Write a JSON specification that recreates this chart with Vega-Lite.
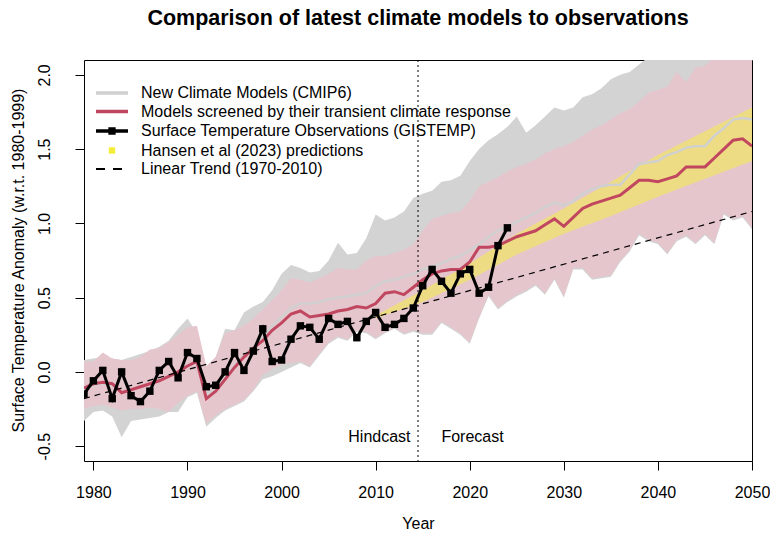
{
  "$schema": "https://vega.github.io/schema/vega-lite/v6.json",
  "width": 668,
  "height": 401,
  "autosize": {"type": "none"},
  "padding": {"left": 84, "top": 60, "right": 18, "bottom": 72},
  "background": "white",
  "title": {"text": "Comparison of latest climate models to observations", "font": "Liberation Sans", "fontSize": 21.5, "fontWeight": "bold", "anchor": "middle", "frame": "group", "baseline": "alphabetic", "offset": 13, "color": "black"},
  "config": {
    "font": "Liberation Sans",
    "view": {"stroke": "black", "strokeWidth": 1, "fill": "white"},
    "axis": {"domain": false, "grid": false, "tickColor": "black", "tickSize": 9, "tickWidth": 1, "labelFont": "Liberation Sans", "labelFontSize": 16, "labelColor": "black", "titleFont": "Liberation Sans", "titleFontSize": 16, "titleFontWeight": "normal", "titleColor": "black"}
  },
  "datasets": {
    "bands": [
      {"year": 1979, "glo": -0.33, "ghi": 0.08, "plo": -0.25, "phi": 0.07},
      {"year": 1980, "glo": -0.27, "ghi": 0.09, "plo": -0.23, "phi": 0.07},
      {"year": 1981, "glo": -0.26, "ghi": 0.10, "plo": -0.22, "phi": 0.13},
      {"year": 1982, "glo": -0.30, "ghi": 0.09, "plo": -0.24, "phi": 0.09},
      {"year": 1983, "glo": -0.44, "ghi": 0.08, "plo": -0.26, "phi": 0.08},
      {"year": 1984, "glo": -0.33, "ghi": 0.10, "plo": -0.25, "phi": 0.08},
      {"year": 1985, "glo": -0.32, "ghi": 0.12, "plo": -0.25, "phi": 0.10},
      {"year": 1986, "glo": -0.31, "ghi": 0.14, "plo": -0.24, "phi": 0.15},
      {"year": 1987, "glo": -0.30, "ghi": 0.17, "plo": -0.25, "phi": 0.16},
      {"year": 1988, "glo": -0.27, "ghi": 0.21, "plo": -0.27, "phi": 0.20},
      {"year": 1989, "glo": -0.27, "ghi": 0.29, "plo": -0.21, "phi": 0.25},
      {"year": 1990, "glo": -0.17, "ghi": 0.36, "plo": -0.16, "phi": 0.30},
      {"year": 1991, "glo": -0.14, "ghi": 0.26, "plo": -0.13, "phi": 0.31},
      {"year": 1992, "glo": -0.37, "ghi": 0.03, "plo": -0.35, "phi": 0.04},
      {"year": 1993, "glo": -0.31, "ghi": 0.10, "plo": -0.29, "phi": 0.10},
      {"year": 1994, "glo": -0.26, "ghi": 0.29, "plo": -0.25, "phi": 0.26},
      {"year": 1995, "glo": -0.23, "ghi": 0.28, "plo": -0.22, "phi": 0.28},
      {"year": 1996, "glo": -0.20, "ghi": 0.40, "plo": -0.19, "phi": 0.31},
      {"year": 1997, "glo": -0.13, "ghi": 0.44, "plo": -0.12, "phi": 0.36},
      {"year": 1998, "glo": -0.05, "ghi": 0.47, "plo": -0.02, "phi": 0.42},
      {"year": 1999, "glo": -0.03, "ghi": 0.55, "plo": 0.02, "phi": 0.48},
      {"year": 2000, "glo": 0.00, "ghi": 0.66, "plo": 0.05, "phi": 0.55},
      {"year": 2001, "glo": 0.03, "ghi": 0.72, "plo": 0.06, "phi": 0.63},
      {"year": 2002, "glo": 0.06, "ghi": 0.70, "plo": 0.07, "phi": 0.62},
      {"year": 2003, "glo": 0.03, "ghi": 0.67, "plo": 0.04, "phi": 0.60},
      {"year": 2004, "glo": 0.11, "ghi": 0.68, "plo": 0.12, "phi": 0.63},
      {"year": 2005, "glo": 0.19, "ghi": 0.75, "plo": 0.20, "phi": 0.66},
      {"year": 2006, "glo": 0.23, "ghi": 0.87, "plo": 0.24, "phi": 0.70},
      {"year": 2007, "glo": 0.21, "ghi": 0.79, "plo": 0.22, "phi": 0.69},
      {"year": 2008, "glo": 0.27, "ghi": 0.80, "plo": 0.28, "phi": 0.69},
      {"year": 2009, "glo": 0.26, "ghi": 0.90, "plo": 0.27, "phi": 0.75},
      {"year": 2010, "glo": 0.22, "ghi": 1.06, "plo": 0.23, "phi": 0.78},
      {"year": 2011, "glo": 0.26, "ghi": 1.02, "plo": 0.27, "phi": 0.78},
      {"year": 2012, "glo": 0.29, "ghi": 1.04, "plo": 0.30, "phi": 0.80},
      {"year": 2013, "glo": 0.25, "ghi": 1.08, "plo": 0.26, "phi": 0.82},
      {"year": 2014, "glo": 0.27, "ghi": 1.17, "plo": 0.28, "phi": 0.86},
      {"year": 2015, "glo": 0.25, "ghi": 1.20, "plo": 0.26, "phi": 0.95},
      {"year": 2016, "glo": 0.25, "ghi": 1.22, "plo": 0.26, "phi": 1.03},
      {"year": 2017, "glo": 0.33, "ghi": 1.28, "plo": 0.34, "phi": 1.05},
      {"year": 2018, "glo": 0.29, "ghi": 1.29, "plo": 0.30, "phi": 1.07},
      {"year": 2019, "glo": 0.25, "ghi": 1.32, "plo": 0.26, "phi": 1.08},
      {"year": 2020, "glo": 0.19, "ghi": 1.42, "plo": 0.20, "phi": 1.15},
      {"year": 2021, "glo": 0.36, "ghi": 1.50, "plo": 0.37, "phi": 1.25},
      {"year": 2022, "glo": 0.51, "ghi": 1.56, "plo": 0.52, "phi": 1.28},
      {"year": 2023, "glo": 0.42, "ghi": 1.60, "plo": 0.43, "phi": 1.31},
      {"year": 2024, "glo": 0.47, "ghi": 1.65, "plo": 0.48, "phi": 1.35},
      {"year": 2025, "glo": 0.51, "ghi": 1.72, "plo": 0.52, "phi": 1.38},
      {"year": 2026, "glo": 0.54, "ghi": 1.61, "plo": 0.55, "phi": 1.40},
      {"year": 2027, "glo": 0.58, "ghi": 1.66, "plo": 0.59, "phi": 1.43},
      {"year": 2028, "glo": 0.52, "ghi": 1.72, "plo": 0.53, "phi": 1.47},
      {"year": 2029, "glo": 0.62, "ghi": 1.78, "plo": 0.63, "phi": 1.50},
      {"year": 2030, "glo": 0.50, "ghi": 1.76, "plo": 0.51, "phi": 1.52},
      {"year": 2031, "glo": 0.69, "ghi": 1.78, "plo": 0.70, "phi": 1.55},
      {"year": 2032, "glo": 0.69, "ghi": 1.85, "plo": 0.70, "phi": 1.59},
      {"year": 2033, "glo": 0.62, "ghi": 1.87, "plo": 0.63, "phi": 1.63},
      {"year": 2034, "glo": 0.63, "ghi": 1.91, "plo": 0.64, "phi": 1.66},
      {"year": 2035, "glo": 0.64, "ghi": 1.97, "plo": 0.65, "phi": 1.70},
      {"year": 2036, "glo": 0.74, "ghi": 2.00, "plo": 0.75, "phi": 1.74},
      {"year": 2037, "glo": 0.81, "ghi": 2.02, "plo": 0.82, "phi": 1.77},
      {"year": 2038, "glo": 0.92, "ghi": 2.07, "plo": 0.93, "phi": 1.82},
      {"year": 2039, "glo": 0.88, "ghi": 2.12, "plo": 0.89, "phi": 1.88},
      {"year": 2040, "glo": 0.86, "ghi": 2.16, "plo": 0.87, "phi": 1.90},
      {"year": 2041, "glo": 0.79, "ghi": 2.20, "plo": 0.80, "phi": 1.92},
      {"year": 2042, "glo": 0.88, "ghi": 2.24, "plo": 0.89, "phi": 2.02},
      {"year": 2043, "glo": 0.91, "ghi": 2.28, "plo": 0.92, "phi": 1.95},
      {"year": 2044, "glo": 0.86, "ghi": 2.32, "plo": 0.87, "phi": 2.05},
      {"year": 2045, "glo": 0.92, "ghi": 2.36, "plo": 0.93, "phi": 2.06},
      {"year": 2046, "glo": 0.86, "ghi": 2.40, "plo": 0.87, "phi": 2.12},
      {"year": 2047, "glo": 1.06, "ghi": 2.44, "plo": 1.07, "phi": 2.16},
      {"year": 2048, "glo": 1.02, "ghi": 2.48, "plo": 1.03, "phi": 2.20},
      {"year": 2049, "glo": 1.04, "ghi": 2.52, "plo": 1.05, "phi": 2.22},
      {"year": 2050, "glo": 0.96, "ghi": 2.56, "plo": 0.97, "phi": 2.25}
    ],
    "yellow": [
      {"year": 2010, "ylo": 0.36, "yhi": 0.38},
      {"year": 2015, "ylo": 0.47, "yhi": 0.55},
      {"year": 2020, "ylo": 0.62, "yhi": 0.73},
      {"year": 2025, "ylo": 0.79, "yhi": 0.93},
      {"year": 2030, "ylo": 0.93, "yhi": 1.10},
      {"year": 2035, "ylo": 1.05, "yhi": 1.28},
      {"year": 2040, "ylo": 1.18, "yhi": 1.46},
      {"year": 2045, "ylo": 1.30, "yhi": 1.62},
      {"year": 2050, "ylo": 1.42, "yhi": 1.78}
    ],
    "lines": [
      {"year": 1979, "cmip": -0.12, "scr": -0.11, "obs": -0.15},
      {"year": 1980, "cmip": -0.09, "scr": -0.08, "obs": -0.06},
      {"year": 1981, "cmip": -0.08, "scr": -0.07, "obs": 0.01},
      {"year": 1982, "cmip": -0.09, "scr": -0.08, "obs": -0.18},
      {"year": 1983, "cmip": -0.14, "scr": -0.14, "obs": 0.00},
      {"year": 1984, "cmip": -0.12, "scr": -0.12, "obs": -0.16},
      {"year": 1985, "cmip": -0.10, "scr": -0.10, "obs": -0.20},
      {"year": 1986, "cmip": -0.08, "scr": -0.08, "obs": -0.13},
      {"year": 1987, "cmip": -0.06, "scr": -0.06, "obs": 0.01},
      {"year": 1988, "cmip": -0.03, "scr": -0.03, "obs": 0.07},
      {"year": 1989, "cmip": 0.00, "scr": 0.00, "obs": -0.04},
      {"year": 1990, "cmip": 0.04, "scr": 0.04, "obs": 0.13},
      {"year": 1991, "cmip": 0.07, "scr": 0.07, "obs": 0.09},
      {"year": 1992, "cmip": -0.15, "scr": -0.18, "obs": -0.10},
      {"year": 1993, "cmip": -0.11, "scr": -0.13, "obs": -0.09},
      {"year": 1994, "cmip": -0.04, "scr": -0.05, "obs": 0.00},
      {"year": 1995, "cmip": 0.04, "scr": 0.03, "obs": 0.13},
      {"year": 1996, "cmip": 0.11, "scr": 0.10, "obs": 0.01},
      {"year": 1997, "cmip": 0.17, "scr": 0.16, "obs": 0.14},
      {"year": 1998, "cmip": 0.23, "scr": 0.21, "obs": 0.29},
      {"year": 1999, "cmip": 0.31, "scr": 0.28, "obs": 0.07},
      {"year": 2000, "cmip": 0.37, "scr": 0.33, "obs": 0.08},
      {"year": 2001, "cmip": 0.43, "scr": 0.39, "obs": 0.22},
      {"year": 2002, "cmip": 0.46, "scr": 0.41, "obs": 0.31},
      {"year": 2003, "cmip": 0.46, "scr": 0.37, "obs": 0.30},
      {"year": 2004, "cmip": 0.47, "scr": 0.38, "obs": 0.22},
      {"year": 2005, "cmip": 0.49, "scr": 0.39, "obs": 0.36},
      {"year": 2006, "cmip": 0.50, "scr": 0.41, "obs": 0.32},
      {"year": 2007, "cmip": 0.51, "scr": 0.42, "obs": 0.34},
      {"year": 2008, "cmip": 0.52, "scr": 0.44, "obs": 0.23},
      {"year": 2009, "cmip": 0.53, "scr": 0.43, "obs": 0.34},
      {"year": 2010, "cmip": 0.58, "scr": 0.46, "obs": 0.40},
      {"year": 2011, "cmip": 0.61, "scr": 0.53, "obs": 0.30},
      {"year": 2012, "cmip": 0.62, "scr": 0.54, "obs": 0.32},
      {"year": 2013, "cmip": 0.64, "scr": 0.52, "obs": 0.36},
      {"year": 2014, "cmip": 0.66, "scr": 0.57, "obs": 0.43},
      {"year": 2015, "cmip": 0.69, "scr": 0.62, "obs": 0.58},
      {"year": 2016, "cmip": 0.71, "scr": 0.66, "obs": 0.69},
      {"year": 2017, "cmip": 0.73, "scr": 0.68, "obs": 0.61},
      {"year": 2018, "cmip": 0.76, "scr": 0.69, "obs": 0.53},
      {"year": 2019, "cmip": 0.78, "scr": 0.69, "obs": 0.66},
      {"year": 2020, "cmip": 0.82, "scr": 0.74, "obs": 0.69},
      {"year": 2021, "cmip": 0.86, "scr": 0.84, "obs": 0.53},
      {"year": 2022, "cmip": 0.91, "scr": 0.84, "obs": 0.57},
      {"year": 2023, "cmip": 0.95, "scr": 0.85, "obs": 0.85},
      {"year": 2024, "cmip": 0.98, "scr": 0.88, "obs": 0.97},
      {"year": 2025, "cmip": 1.01, "scr": 0.91},
      {"year": 2026, "cmip": 1.04, "scr": 0.93},
      {"year": 2027, "cmip": 1.07, "scr": 0.95},
      {"year": 2028, "cmip": 1.11, "scr": 0.99},
      {"year": 2029, "cmip": 1.14, "scr": 1.03},
      {"year": 2030, "cmip": 1.12, "scr": 0.98},
      {"year": 2031, "cmip": 1.15, "scr": 1.04},
      {"year": 2032, "cmip": 1.20, "scr": 1.10},
      {"year": 2033, "cmip": 1.23, "scr": 1.13},
      {"year": 2034, "cmip": 1.25, "scr": 1.15},
      {"year": 2035, "cmip": 1.26, "scr": 1.17},
      {"year": 2036, "cmip": 1.26, "scr": 1.19},
      {"year": 2037, "cmip": 1.33, "scr": 1.24},
      {"year": 2038, "cmip": 1.40, "scr": 1.29},
      {"year": 2039, "cmip": 1.41, "scr": 1.29},
      {"year": 2040, "cmip": 1.42, "scr": 1.28},
      {"year": 2041, "cmip": 1.46, "scr": 1.30},
      {"year": 2042, "cmip": 1.48, "scr": 1.32},
      {"year": 2043, "cmip": 1.51, "scr": 1.38},
      {"year": 2044, "cmip": 1.52, "scr": 1.38},
      {"year": 2045, "cmip": 1.52, "scr": 1.38},
      {"year": 2046, "cmip": 1.59, "scr": 1.44},
      {"year": 2047, "cmip": 1.64, "scr": 1.50},
      {"year": 2048, "cmip": 1.70, "scr": 1.56},
      {"year": 2049, "cmip": 1.71, "scr": 1.57},
      {"year": 2050, "cmip": 1.70, "scr": 1.52}
    ],
    "trend": [
      {"year": 1979, "trend": -0.18},
      {"year": 2050, "trend": 1.08}
    ],
    "divider": [{"year": 2014.5}],
    "labels": [
      {"year": 2010.4, "value": -0.44, "label": "Hindcast"},
      {"year": 2020.3, "value": -0.44, "label": "Forecast"}
    ]
  },
  "encoding": {
    "x": {"field": "year", "type": "quantitative",
      "scale": {"domain": [1979, 2050], "nice": false, "zero": false},
      "axis": {"values": [1980, 1990, 2000, 2010, 2020, 2030, 2040, 2050], "format": "d", "title": "Year", "labelFlush": false, "labelOverlap": false, "labelPadding": 14,
        "titleX": 334, "titleY": 62, "titleAlign": "center", "titleBaseline": "middle"}}
  },
  "layer": [
    {
      "data": {"name": "bands"},
      "mark": {"type": "area", "color": "#D3D3D3", "clip": true},
      "encoding": {
        "y": {"field": "glo", "type": "quantitative",
          "scale": {"domain": [-0.6, 2.1], "nice": false, "zero": false},
          "axis": {"values": [-0.5, 0, 0.5, 1, 1.5, 2], "labelAngle": -90, "labelAlign": "center", "labelBaseline": "bottom", "labelPadding": 23,
            "labelExpr": "datum.value < 0 ? '-' + format(-datum.value, '.1f') : format(datum.value, '.1f')",
            "title": "Surface Temperature Anomaly (w.r.t. 1980-1999)", "titleX": -66, "titleY": 200, "titleAngle": -90, "titleAlign": "center", "titleBaseline": "middle"}},
        "y2": {"field": "ghi"}
      }
    },
    {
      "data": {"name": "bands"},
      "mark": {"type": "area", "color": "#E6C6CD", "clip": true},
      "encoding": {
        "y": {"field": "plo", "type": "quantitative"},
        "y2": {"field": "phi"}
      }
    },
    {
      "data": {"name": "yellow"},
      "mark": {"type": "area", "color": "#EEDC84", "clip": true},
      "encoding": {
        "y": {"field": "ylo", "type": "quantitative"},
        "y2": {"field": "yhi"}
      }
    },
    {
      "data": {"name": "lines"},
      "mark": {"type": "line", "strokeWidth": 2.5, "clip": true},
      "encoding": {
        "y": {"field": "cmip", "type": "quantitative"},
        "color": {"datum": "New Climate Models (CMIP6)", "type": "nominal",
          "scale": {"domain": ["New Climate Models (CMIP6)", "Models screened by their transient climate response", "Surface Temperature Observations (GISTEMP)", "Hansen et al (2023) predictions", "Linear Trend (1970-2010)"],
                    "range": ["#D0D0D0", "#C0475F", "#000000", "#F5EC3A", "#000000"]},
          "legend": {
            "orient": "none", "legendX": 20, "legendY": 25, "title": null, "padding": 0,
            "symbolSize": 1024, "symbolStrokeWidth": 3.5,
            "labelFont": "Liberation Sans", "labelFontSize": 16, "labelColor": "black", "labelOffset": 21, "labelLimit": 600,
            "rowPadding": 2.5,
            "encode": {"symbols": {"update": {
              "shape": {"signal": "datum.value === 'Surface Temperature Observations (GISTEMP)' ? 'M-1,0H1M-0.12,-0.12H0.12V0.12H-0.12Z' : datum.value === 'Hansen et al (2023) predictions' ? 'M-0.2,-0.2H0.2V0.2H-0.2Z' : 'stroke'"},
              "fill": {"signal": "datum.value === 'Surface Temperature Observations (GISTEMP)' ? '#000000' : datum.value === 'Hansen et al (2023) predictions' ? '#F5EC3A' : 'transparent'"},
              "strokeDash": {"signal": "datum.value === 'Linear Trend (1970-2010)' ? [9, 8] : [1, 0]"},
              "strokeWidth": {"signal": "datum.value === 'Linear Trend (1970-2010)' ? 2 : datum.value === 'Hansen et al (2023) predictions' ? 0 : 3.5"},
              "opacity": {"value": 1}
            }}}
          }}
      }
    },
    {
      "data": {"name": "lines"},
      "mark": {"type": "line", "strokeWidth": 3, "clip": true},
      "encoding": {
        "y": {"field": "scr", "type": "quantitative"},
        "color": {"datum": "Models screened by their transient climate response", "type": "nominal"}
      }
    },
    {
      "data": {"name": "trend"},
      "mark": {"type": "line", "strokeWidth": 1.2, "strokeDash": [6, 5], "clip": true},
      "encoding": {
        "y": {"field": "trend", "type": "quantitative"},
        "color": {"datum": "Linear Trend (1970-2010)", "type": "nominal"}
      }
    },
    {
      "data": {"name": "lines"},
      "mark": {"type": "line", "strokeWidth": 3, "clip": true},
      "encoding": {
        "y": {"field": "obs", "type": "quantitative"},
        "color": {"datum": "Surface Temperature Observations (GISTEMP)", "type": "nominal"}
      }
    },
    {
      "data": {"name": "lines"},
      "mark": {"type": "point", "shape": "square", "filled": true, "size": 55, "color": "black", "opacity": 1, "clip": true},
      "encoding": {
        "y": {"field": "obs", "type": "quantitative"}
      }
    },
    {
      "data": {"name": "divider"},
      "mark": {"type": "rule", "color": "black", "strokeWidth": 1, "strokeDash": [2, 3]},
      "encoding": {
        "x": {"field": "year", "type": "quantitative"}
      }
    },
    {
      "data": {"name": "labels"},
      "mark": {"type": "text", "font": "Liberation Sans", "fontSize": 16, "color": "black", "align": "center", "baseline": "middle"},
      "encoding": {
        "y": {"field": "value", "type": "quantitative"},
        "text": {"field": "label"}
      }
    }
  ]
}
